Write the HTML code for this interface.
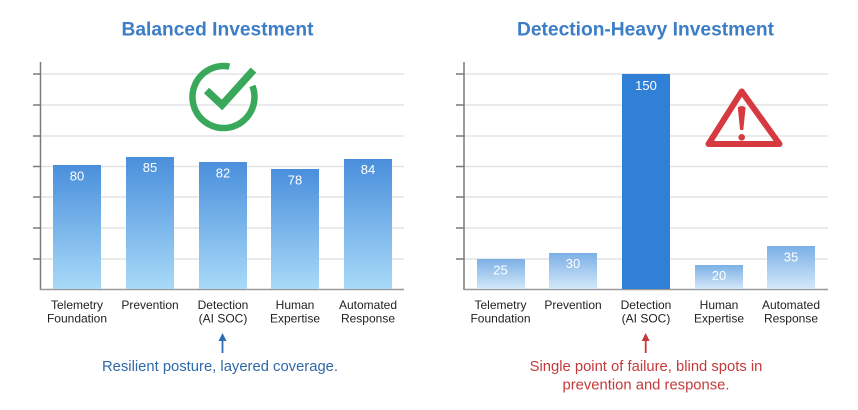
<!DOCTYPE html>
<html><head><meta charset="utf-8"><style>
html,body{margin:0;padding:0;background:#fff;width:858px;height:410px;overflow:hidden}
svg{display:block}
text{font-family:"Liberation Sans",Arial,sans-serif}
</style></head><body>
<svg width="858" height="410" viewBox="0 0 858 410" xmlns="http://www.w3.org/2000/svg">
<defs>
<linearGradient id="gL" x1="0" y1="0" x2="0" y2="1"><stop offset="0" stop-color="#4a8fdc"/><stop offset="1" stop-color="#a8daf8"/></linearGradient>
<linearGradient id="gR" x1="0" y1="0" x2="0" y2="1"><stop offset="0" stop-color="#7cb0e6"/><stop offset="1" stop-color="#d3e8f9"/></linearGradient>
</defs>
<rect width="858" height="410" fill="#fff"/>

<!-- Titles -->
<text x="217.5" y="35.5" text-anchor="middle" font-size="19.2" font-weight="bold" fill="#3b7dc6">Balanced Investment</text>
<text x="645.5" y="35.5" text-anchor="middle" font-size="19.2" font-weight="bold" fill="#3b7dc6">Detection-Heavy Investment</text>

<!-- Left grid -->
<g stroke="#e3e3e3" stroke-width="1.5">
<line x1="40" x2="404" y1="74" y2="74"/><line x1="40" x2="404" y1="105" y2="105"/><line x1="40" x2="404" y1="136" y2="136"/><line x1="40" x2="404" y1="166.5" y2="166.5"/><line x1="40" x2="404" y1="197" y2="197"/><line x1="40" x2="404" y1="228" y2="228"/><line x1="40" x2="404" y1="259" y2="259"/>
</g>
<g stroke="#7a7a7a" stroke-width="1.5">
<line x1="33" x2="40" y1="74" y2="74"/><line x1="33" x2="40" y1="105" y2="105"/><line x1="33" x2="40" y1="136" y2="136"/><line x1="33" x2="40" y1="166.5" y2="166.5"/><line x1="33" x2="40" y1="197" y2="197"/><line x1="33" x2="40" y1="228" y2="228"/><line x1="33" x2="40" y1="259" y2="259"/>
<line x1="40.5" x2="40.5" y1="62" y2="290"/>
</g>
<line x1="40" x2="404" y1="289.5" y2="289.5" stroke="#9a9a9a" stroke-width="1.5"/>

<!-- Left bars -->
<g fill="url(#gL)">
<rect x="53" y="165" width="48" height="124"/>
<rect x="126" y="157" width="48" height="132"/>
<rect x="199" y="162" width="48" height="127"/>
<rect x="271" y="169" width="48" height="120"/>
<rect x="344" y="159" width="48" height="130"/>
</g>
<g fill="#fff" font-size="13" text-anchor="middle">
<text x="77" y="180.5">80</text>
<text x="150" y="172">85</text>
<text x="223" y="177.5">82</text>
<text x="295" y="184.5">78</text>
<text x="368" y="174">84</text>
</g>

<!-- Left category labels -->
<g fill="#222" font-size="12" text-anchor="middle">
<text x="77" y="309">Telemetry</text><text x="77" y="322.5">Foundation</text>
<text x="150" y="309">Prevention</text>
<text x="223" y="309">Detection</text><text x="223" y="322.5">(AI SOC)</text>
<text x="295" y="309">Human</text><text x="295" y="322.5">Expertise</text>
<text x="368" y="309">Automated</text><text x="368" y="322.5">Response</text>
</g>

<!-- Check icon -->
<g fill="none" stroke="#3aa85a" stroke-width="6.5">
<path d="M 252.4 85.9 A 31 31 0 1 1 229.4 66.6"/>
<polyline points="206.5,90.5 222,105 253.5,70" stroke-width="7.5"/>
</g>

<!-- Left annotation -->
<line x1="222.5" y1="353" x2="222.5" y2="339" stroke="#2e6db0" stroke-width="1.8"/>
<polygon points="222.5,333 218.5,341 226.5,341" fill="#2e6db0"/>
<text x="220" y="371" text-anchor="middle" font-size="14.8" fill="#2e69a8">Resilient posture, layered coverage.</text>

<!-- Right grid -->
<g stroke="#e3e3e3" stroke-width="1.5">
<line x1="464" x2="828" y1="74" y2="74"/><line x1="464" x2="828" y1="105" y2="105"/><line x1="464" x2="828" y1="136" y2="136"/><line x1="464" x2="828" y1="166.5" y2="166.5"/><line x1="464" x2="828" y1="197" y2="197"/><line x1="464" x2="828" y1="228" y2="228"/><line x1="464" x2="828" y1="259" y2="259"/>
</g>
<g stroke="#7a7a7a" stroke-width="1.5">
<line x1="456" x2="464" y1="74" y2="74"/><line x1="456" x2="464" y1="105" y2="105"/><line x1="456" x2="464" y1="136" y2="136"/><line x1="456" x2="464" y1="166.5" y2="166.5"/><line x1="456" x2="464" y1="197" y2="197"/><line x1="456" x2="464" y1="228" y2="228"/><line x1="456" x2="464" y1="259" y2="259"/>
<line x1="464" x2="464" y1="62" y2="290"/>
</g>
<line x1="464" x2="828" y1="289.5" y2="289.5" stroke="#9a9a9a" stroke-width="1.5"/>

<!-- Right bars -->
<g fill="url(#gR)">
<rect x="477" y="259" width="48" height="30"/>
<rect x="549" y="253" width="48" height="36"/>
<rect x="695" y="265" width="48" height="24"/>
<rect x="767" y="246" width="48" height="43"/>
</g>
<rect x="622" y="74" width="48" height="215" fill="#3080d8"/>
<g fill="#fff" font-size="13" text-anchor="middle">
<text x="500.5" y="274.5">25</text>
<text x="573" y="268">30</text>
<text x="646" y="90">150</text>
<text x="719" y="280">20</text>
<text x="791" y="261.5">35</text>
</g>

<!-- Right category labels -->
<g fill="#222" font-size="12" text-anchor="middle">
<text x="500.5" y="309">Telemetry</text><text x="500.5" y="322.5">Foundation</text>
<text x="573" y="309">Prevention</text>
<text x="646" y="309">Detection</text><text x="646" y="322.5">(AI SOC)</text>
<text x="719" y="309">Human</text><text x="719" y="322.5">Expertise</text>
<text x="791" y="309">Automated</text><text x="791" y="322.5">Response</text>
</g>

<!-- Warning icon -->
<polygon points="741.7,91.5 708.5,144 779.5,144" fill="none" stroke="#d63a40" stroke-width="6" stroke-linejoin="round"/>
<path d="M 737.8 107.5 Q 741.7 104.5 745.6 107.5 L 743.3 130 L 740.1 130 Z" fill="#d63a40"/>
<circle cx="741.7" cy="137.3" r="3.3" fill="#d63a40"/>

<!-- Right annotation -->
<line x1="645.7" y1="353" x2="645.7" y2="339" stroke="#c9383a" stroke-width="1.8"/>
<polygon points="645.7,333 641.7,341 649.7,341" fill="#c9383a"/>
<g fill="#c43a3a" font-size="14.8" text-anchor="middle">
<text x="646" y="371">Single point of failure, blind spots in</text>
<text x="646" y="389.5">prevention and response.</text>
</g>
</svg>
</body></html>
